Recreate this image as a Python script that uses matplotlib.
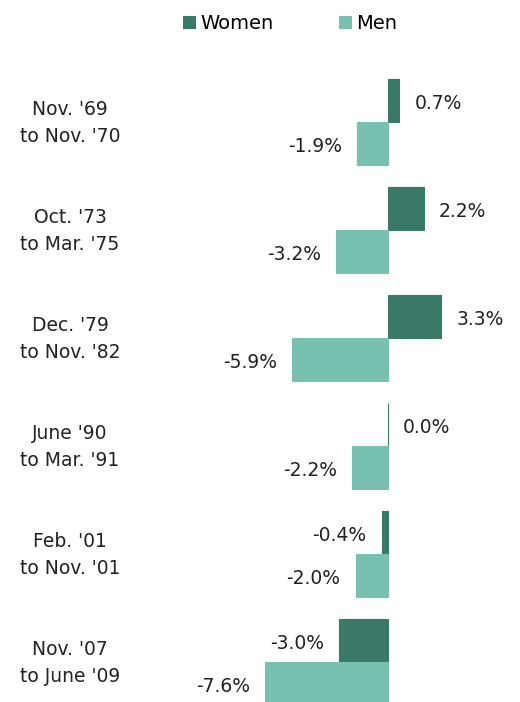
import numpy as np
import matplotlib.pyplot as plt

# recessions and employment change (%)
periods = ["Nov. '69\nto Nov. '70", "Oct. '73\nto Mar. '75", "Dec. '79\nto Nov. '82",
           "June '90\nto Mar. '91", "Feb. '01\nto Nov. '01", "Nov. '07\nto June '09"]
women = [0.7, 2.2, 3.3, 0.0, -0.4, -3.0]
men = [-1.9, -3.2, -5.9, -2.2, -2.0, -7.6]

women_color = '#3a7868'
men_color = '#78c0b0'

fig = plt.figure(figsize=(5.2, 7.02), dpi=100)
ax = fig.add_axes([0, 0, 1, 1])

y = np.arange(len(periods))
h = 0.4

ax.barh(y - h / 2, women, height=h, color=women_color, edgecolor=women_color, linewidth=0.8, label='Women')
ax.barh(y + h / 2, men, height=h, color=men_color, edgecolor=men_color, linewidth=0.8, label='Men')

px = 1 / 16.2  # data units per pixel horizontally
gap = 15 * px
fs = 13.5
for i, (w, m) in enumerate(zip(women, men)):
    if w >= 0:
        ax.text(w + gap, i - h / 2 + 0.03, f'{w:.1f}%', ha='left', va='center', fontsize=fs, color='#222222')
    else:
        ax.text(w - gap, i - h / 2 + 0.03, f'{w:.1f}%', ha='right', va='center', fontsize=fs, color='#222222')
    ax.text(m - gap, i + h / 2 + 0.03, f'{m:.1f}%', ha='right', va='center', fontsize=fs, color='#222222')
    ax.text(-318 * px, i + 0.01, periods[i], ha='center', va='center', fontsize=fs, color='#222222', linespacing=1.5)

ax.set_xlim(-388 * px, 132 * px)
ax.set_ylim(580 / 108, -122 / 108)
ax.axis('off')

fig.legend(loc='center', bbox_to_anchor=(0.558, 0.967), ncol=2, frameon=False,
           fontsize=14, handlelength=0.62, handleheight=0.62, handletextpad=0.26,
           columnspacing=3.4)

plt.savefig('out.png', dpi=100)
